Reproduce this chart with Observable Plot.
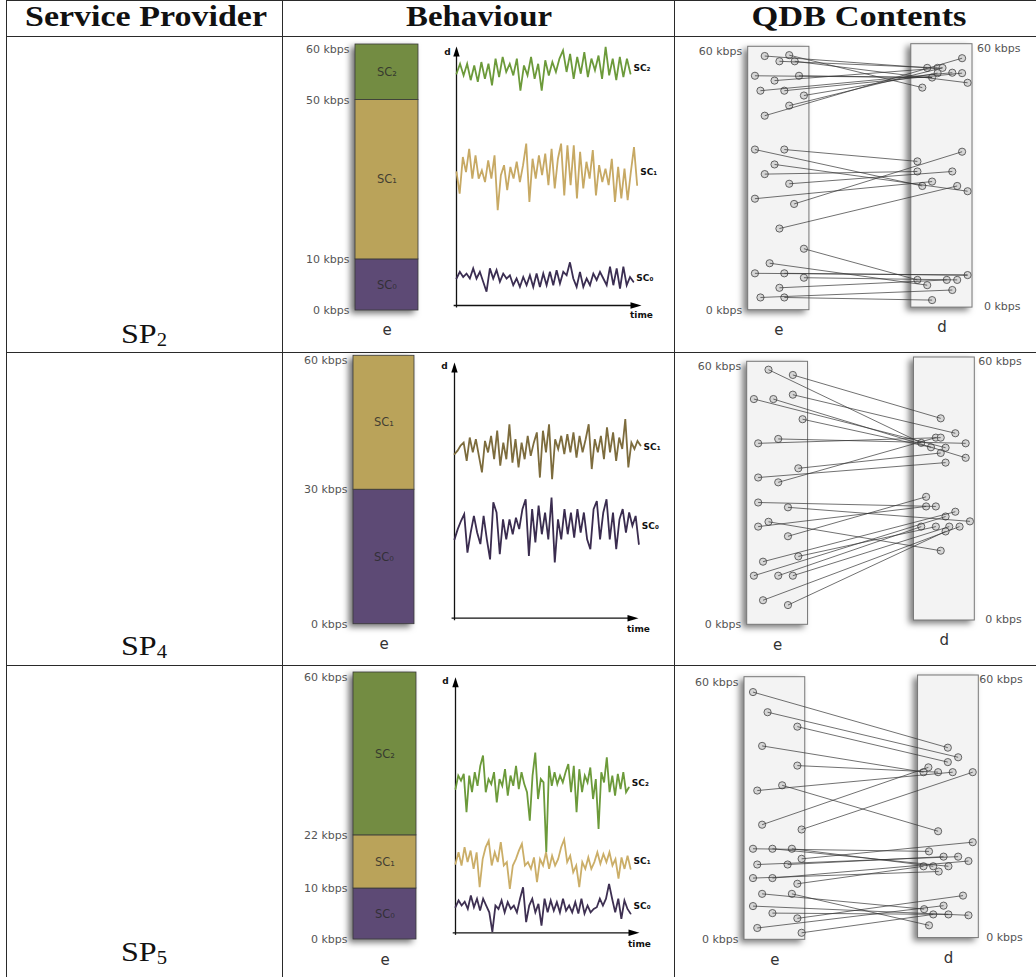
<!DOCTYPE html>
<html><head><meta charset="utf-8">
<script src="https://cdn.jsdelivr.net/npm/d3@7"></script>
<script src="https://cdn.jsdelivr.net/npm/@observablehq/plot@0.6"></script>
<style>
body{margin:0;background:#fff;}
#root{position:relative;width:1036px;height:977px;overflow:hidden;background:#fff;}
.ln{position:absolute;background:#2a2a2a;}
.hdr{position:absolute;font-family:"Liberation Serif",serif;font-weight:bold;font-size:29px;line-height:29px;color:#111;white-space:nowrap;transform-origin:50% 50%;}
.sp{position:absolute;font-family:"Liberation Serif",serif;font-size:28px;line-height:28px;color:#111;white-space:nowrap;transform-origin:50% 50%;}
.sp sub{font-size:18px;vertical-align:-3px;line-height:0;}
</style></head><body><div id="root"></div>
<script>
// ---------- DATA ----------
const classNames = ["SC₀", "SC₁", "SC₂"];
const headers = ["Service Provider", "Behaviour", "QDB Contents"];
const providers = ["2", "4", "5"];

// SP2 behaviour
const sp2Bounds = [0, 10, 50, 60];
const sp2Classes = [0, 1, 2];
const sp2Sc2 = [53.7,56.0,53.3,56.0,52.2,55.6,51.8,56.4,52.5,56.0,51.0,57.2,52.9,57.6,54.1,56.0,53.3,57.2,49.8,55.6,53.3,57.6,52.5,56.0,49.8,56.8,53.3,56.4,54.1,57.2,59.1,54.1,58.3,52.5,57.6,53.7,58.7,52.9,57.2,54.5,57.9,52.5,59.9,53.3,57.2,52.2,57.6,52.9,57.2,53.7];
const sp2Sc1 = [30.9,25.9,34.4,30.9,36.3,29.4,34.8,29.4,31.3,28.6,33.6,29.4,34.8,22.1,30.2,32.5,26.7,32.1,29.4,33.3,28.6,32.5,37.5,24.0,34.0,29.4,34.8,30.2,35.2,27.9,36.3,27.1,34.0,37.5,25.5,37.1,27.9,37.1,24.8,35.6,27.1,33.3,29.4,36.0,25.5,32.5,28.6,31.7,27.9,34.0,24.0,32.1,24.8,31.7,24.4,30.9,36.7,27.9];
const sp2Sc0 = [6.25,7.8,6.6,7.4,6.25,8.6,6.25,7.8,5.5,3.2,8.6,6.25,8.2,5.5,7.4,6.25,7.0,4.7,6.25,4.3,6.6,4.7,7.0,4.3,7.4,4.3,7.4,4.7,7.8,4.7,8.2,5.1,7.8,7.0,10.0,6.25,4.3,7.8,4.3,6.25,4.7,7.4,5.9,7.8,6.25,4.7,9.0,4.7,8.6,3.9,9.0,4.7,6.6,5.5];

// SP4 behaviour
const sp4Bounds = [0, 30, 60];
const sp4Classes = [0, 1];
const sp4Sc1 = [38.5,39.3,40.5,41.2,36.9,42.4,38.9,42.0,38.1,34.2,41.6,38.9,42.8,37.3,44.0,35.8,41.2,37.3,45.5,36.5,42.0,35.4,41.2,37.3,42.8,38.1,41.2,43.6,33.0,44.0,38.9,45.5,32.6,42.0,39.7,42.8,38.5,43.2,38.9,43.6,37.7,42.8,38.9,42.0,45.5,35.0,42.0,38.9,42.8,37.3,44.8,38.9,43.6,36.9,42.4,39.7,46.7,35.4,41.2,39.7,41.6,40.5];
const sp4Sc0 = [18.5,20.9,22.8,24.4,15.4,20.1,24.0,20.1,17.4,24.0,18.5,13.8,27.2,24.8,15.0,23.2,18.5,23.2,19.7,23.6,20.9,25.6,27.9,14.6,25.6,17.8,26.4,19.7,24.8,18.5,28.3,13.1,23.2,18.5,25.6,19.7,24.8,18.9,25.6,20.1,24.8,18.5,16.2,25.6,27.5,18.5,24.8,27.9,18.5,24.8,16.2,23.2,25.6,20.1,24.8,21.7,24.0,17.4];

// SP5 behaviour
const sp5Bounds = [0, 10, 22, 60];
const sp5Classes = [0, 1, 2];
const sp5Sc2 = [33.75,36.9,35.7,37.3,28.3,36.9,33.0,37.7,34.5,39.2,41.6,33.0,36.1,34.9,37.7,30.6,36.1,34.5,38.4,32.2,36.9,34.5,39.2,33.75,37.7,34.9,33.0,26.3,36.9,42.3,31.4,36.1,35.3,18.9,39.2,34.5,37.7,34.9,36.9,35.3,37.7,39.6,33.0,39.2,28.3,38.4,33.0,36.9,35.3,38.8,31.4,36.1,24.4,37.7,35.3,41.2,33.0,36.9,32.2,37.3,33.75,37.7,33.0,34.1];
const sp5Sc1 = [16.2,18.9,15.8,20.1,16.6,19.3,15.0,18.9,10.7,17.3,20.1,21.6,15.8,18.9,16.6,21.3,15.8,16.6,10.3,15.8,17.3,19.3,20.9,15.8,16.6,15.0,17.7,11.9,17.3,15.8,18.9,15.0,18.1,15.8,17.3,20.1,21.9,16.6,18.1,14.2,15.8,10.7,16.6,15.0,17.7,15.0,16.6,18.9,16.2,18.5,16.6,18.9,15.8,17.3,12.7,17.7,15.0,18.1,15.0];
const sp5Sc0 = [6.0,7.6,6.4,7.3,5.6,8.75,6.0,8.0,5.2,8.0,6.4,4.8,0.2,6.4,5.6,7.6,4.8,7.2,5.6,6.4,4.8,8.0,10.7,2.5,6.4,8.0,4.8,6.8,1.7,8.0,4.8,7.6,5.2,7.2,4.8,8.0,5.2,6.4,4.8,7.2,4.5,8.0,4.5,6.4,4.8,5.6,6.0,8.0,6.4,8.0,11.5,8.0,4.8,8.0,3.3,7.6,5.6,4.5];

// QDB contents: e-side and d-side samples (kbps), lane inside each column, and e→d links
const sp2EKbps = [57.9,56.7,58.1,56.7,53.4,52.3,53.4,50.0,50.0,48.9,46.6,44.3,36.6,36.6,33.2,31.0,28.8,25.4,24.2,18.6,14.0,10.7,8.4,8.4,7.4,5.1,2.9,2.9];
const sp2ELane = [.27,.51,.67,.76,.11,.43,.83,.20,.59,.91,.67,.27,.11,.59,.43,.27,.67,.11,.75,.51,.91,.35,.11,.59,.91,.51,.20,.59];
const sp2DKbps = [57.4,55.2,55.2,55.2,54.0,54.1,54.0,53.0,51.8,50.7,36.1,33.9,31.6,31.6,29.3,28.3,28.3,27.1,8.0,6.9,6.9,6.9,5.7,4.6,2.3];
const sp2DLane = [.83,.26,.43,.51,.43,.67,.83,.34,.92,.18,.83,.10,.10,.67,.34,.18,.75,.92,.92,.10,.58,.75,.26,.67,.34];
const sp2Links = [[0,1],[1,2],[2,9],[3,8],[4,7],[5,3],[6,7],[7,5],[8,6],[9,4],[10,3],[11,0],[12,15],[13,11],[14,17],[15,12],[16,13],[17,14],[18,10],[19,16],[20,19],[21,22],[22,18],[23,18],[24,21],[25,20],[26,23],[27,24]];

const sp4EKbps = [58.2,57.0,51.5,51.5,52.5,46.9,41.4,42.4,35.7,33.6,32.5,27.9,26.8,22.4,23.5,20.2,14.4,15.6,11.2,11.2,11.2,5.6,4.5];
const sp4ELane = [.35,.75,.11,.43,.75,.91,.18,.51,.84,.18,.51,.18,.67,.18,.35,.67,.26,.84,.11,.51,.75,.26,.67];
const sp4DKbps = [47.1,43.7,42.7,42.7,41.5,41.4,40.5,40.4,39.2,38.1,37.0,29.2,27.0,27.0,25.8,24.7,23.6,22.4,22.4,22.4,22.4,21.3,16.9];
const sp4DLane = [.44,.68,.36,.44,.12,.85,.28,.52,.44,.85,.52,.20,.20,.36,.68,.52,.92,.12,.36,.58,.75,.52,.44];
const sp4Links = [[0,4],[1,0],[2,7],[3,9],[4,1],[5,6],[6,3],[7,5],[8,8],[9,10],[10,2],[11,13],[12,16],[13,12],[14,22],[15,11],[16,14],[17,18],[18,15],[19,17],[20,19],[21,20],[22,21]];

const sp5EKbps = [56.6,52.0,48.7,44.3,39.8,34.1,35.3,26.3,25.2,20.8,20.8,20.8,18.5,17.2,17.2,14.1,14.1,12.8,10.5,10.5,7.7,6.1,4.9,2.7,1.6];
const sp5ELane = [.14,.38,.87,.29,.87,.21,.62,.29,.94,.14,.46,.78,.94,.21,.71,.14,.46,.87,.29,.78,.14,.46,.87,.21,.94];
const sp5DKbps = [43.9,41.7,40.6,39.4,38.3,38.3,38.3,38.3,24.8,22.3,20.2,19.0,19.0,18.0,16.8,16.8,16.8,15.6,10.1,7.8,7.0,5.8,5.8,5.6,3.3];
const sp5DLane = [.49,.66,.49,.17,.09,.33,.57,.90,.33,.90,.18,.42,.66,.83,.09,.25,.50,.34,.74,.42,.10,.25,.50,.83,.18];
const sp5Links = [[0,0],[1,1],[2,2],[3,4],[4,5],[5,6],[6,8],[7,3],[8,7],[9,10],[10,16],[11,15],[12,9],[13,12],[14,11],[15,17],[16,13],[17,14],[18,20],[19,24],[20,23],[21,22],[22,18],[23,19],[24,21]];

// ---------- STYLE / LAYOUT ----------
const classFill = ["#5d4a75", "#baa35a", "#738c42"];
const FONT = "DejaVu Sans, sans-serif";
const root = document.getElementById("root");

function place(svg, L) {
  svg.style.position = "absolute";
  svg.style.left = L.left + "px";
  svg.style.top = L.top + "px";
  svg.style.maxWidth = "none";
  root.appendChild(svg);
}
function line(x, y, w, h) {
  const d = document.createElement("div");
  d.className = "ln";
  Object.assign(d.style, {left: x + "px", top: y + "px", width: w + "px", height: h + "px"});
  root.appendChild(d);
}

const arrowUp = {draw(ctx) { ctx.moveTo(0, 0); ctx.lineTo(3.2, 10); ctx.lineTo(-3.2, 10); ctx.closePath(); }};
const arrowRight = {draw(ctx) { ctx.moveTo(0, 0); ctx.lineTo(-11, -3.2); ctx.lineTo(-11, 3.2); ctx.closePath(); }};

// L.stops: drawn share of the bar height at each bound (the bar is not drawn to a linear scale)
function barChart(L, bounds, classes) {
  const segs = classes.map((c, i) => ({lo: bounds[i], hi: bounds[i + 1], cls: c}));
  const top = bounds[bounds.length - 1];
  const warp = d3.scaleLinear().domain(bounds).range(L.stops);
  const svg = Plot.plot({
    width: L.w, height: L.h, marginLeft: L.ml, marginRight: L.mr, marginTop: L.mt, marginBottom: L.mb,
    style: {background: "transparent", fontFamily: FONT, overflow: "visible"},
    x: {type: "band", domain: ["e"], padding: 0, axis: null},
    y: {type: "linear", domain: [0, 1], transform: warp, axis: null},
    color: {type: "identity"},
    marks: [
      Plot.barY(segs, {x: () => "e", y1: "lo", y2: "hi", fill: d => classFill[d.cls], stroke: "#3a3a3a", strokeWidth: 0.8, inset: 0}),
      Plot.text(segs, {x: () => "e", y: d => (d.lo + d.hi) / 2, text: d => classNames[d.cls], fontSize: 11.5, fill: "#2b2b2b", fillOpacity: 0.85}),
      Plot.text(bounds.slice(0, -1), {y: d => d, text: d => `${d} kbps`, frameAnchor: "left", textAnchor: "end", dx: -6, fontSize: 11, fill: "#555"}),
      Plot.text([top], {y: d => d, text: d => `${d} kbps`, frameAnchor: "left", textAnchor: "end", dx: -6, dy: 5, fontSize: 11, fill: "#555"}),
      Plot.text(["e"], {x: d => d, y: 0, dy: L.eDy, text: d => d, fontSize: 15, fill: "#333"})
    ]
  });
  const g = svg.querySelector('g[aria-label="bar"]');
  if (g) g.style.filter = "drop-shadow(-4px 3px 3px rgba(0,0,0,0.55))";
  place(svg, L);
}

function lineChart(L, series) {
  const marks = [
    Plot.ruleX([0], {x: d => d, y1: -0.6, y2: 59, stroke: "#111", strokeWidth: 1.3}),
    Plot.ruleY([0], {y: d => d, x1: -1.3, x2: L.xMax - 2, stroke: "#111", strokeWidth: 1.3}),
    Plot.dot([0], {x: 0, y: 60, symbol: arrowUp, fill: "#000", stroke: "none", r: 4}),
    Plot.dot([0], {x: L.xMax, y: 0, symbol: arrowRight, fill: "#000", stroke: "none", r: 4}),
    Plot.text(["d"], {x: 0, y: 60, text: d => d, dx: L.dDx, dy: L.dDy, fontSize: 9, fontWeight: "bold", fill: "#111"}),
    Plot.text(["time"], {x: L.xMax, y: 0, text: d => d, dy: L.tDy, fontSize: 9, fontWeight: "bold", fill: "#111"})
  ];
  for (const s of series) {
    const n = s.values.length;
    const data = s.values.map((v, i) => ({t: i * s.tEnd / (n - 1), v}));
    marks.push(Plot.line(data, {x: "t", y: "v", stroke: s.color, strokeWidth: 1.8, strokeLinejoin: "miter", strokeMiterlimit: 4}));
  }
  marks.push(Plot.text(series, {x: s => s.tEnd, y: s => d3.mean(s.values), text: s => classNames[s.cls], textAnchor: "start", dx: 3, fontSize: 9, fontWeight: "bold", fill: "#111"}));
  const svg = Plot.plot({
    width: L.w, height: L.h, marginLeft: L.ml, marginRight: L.mr, marginTop: L.mt, marginBottom: L.mb,
    style: {background: "transparent", fontFamily: FONT, overflow: "visible"},
    x: {domain: [0, L.xMax], axis: null},
    y: {domain: [0, 60], axis: null},
    marks
  });
  place(svg, L);
}

function qdbChart(L, eK, eL, dK, dL, links) {
  const G = L.G;
  const eP = eK.map((k, i) => ({x: eL[i], y: k}));
  const dP = dK.map((k, i) => ({x: G + dL[i], y: k}));
  const lk = links.map(([a, b]) => ({x1: eP[a].x, y1: eP[a].y, x2: dP[b].x, y2: dP[b].y}));
  const lab = {fontSize: 11, fill: "#555"};
  const svg = Plot.plot({
    width: L.w, height: L.h, marginLeft: L.ml, marginRight: L.mr, marginTop: L.mt, marginBottom: L.mb,
    style: {background: "transparent", fontFamily: FONT, overflow: "visible"},
    x: {domain: [0, G + 1], axis: null},
    y: {domain: [0, 60], axis: null},
    marks: [
      Plot.rect([0], {x1: 0, x2: 1, y1: 0, y2: 60, fill: "#f3f3f3", stroke: "#777", strokeWidth: 1}),
      Plot.rect([0], {x1: G, x2: G + 1, y1: 0, y2: 60, fill: "#f3f3f3", stroke: "#777", strokeWidth: 1, dy: L.ddy}),
      Plot.dot(eP, {x: "x", y: "y", r: 3.6, fill: "#d6d6d6", stroke: "#555", strokeWidth: 0.9}),
      Plot.dot(dP, {x: "x", y: "y", r: 3.6, fill: "#d6d6d6", stroke: "#555", strokeWidth: 0.9}),
      Plot.link(lk, {x1: "x1", y1: "y1", x2: "x2", y2: "y2", stroke: "#333", strokeWidth: 0.7}),
      Plot.text([60], {x: 0, y: d => d, text: d => `${d} kbps`, textAnchor: "end", dx: -6, dy: 5, ...lab}),
      Plot.text([0], {x: 0, y: d => d, text: d => `${d} kbps`, textAnchor: "end", dx: -6, ...lab}),
      Plot.text([60], {x: G + 1, y: d => d, text: d => `${d} kbps`, textAnchor: "end", dx: L.rDx, dy: L.ddy + 4, ...lab}),
      Plot.text([0], {x: G + 1, y: d => d, text: d => `${d} kbps`, textAnchor: "end", dx: L.rDx, dy: L.ddy - 1, ...lab}),
      Plot.text(["e"], {x: 0.5, y: 0, text: d => d, dy: 20, fontSize: 15, fill: "#333"}),
      Plot.text(["d"], {x: G + 0.5, y: 0, text: d => d, dy: 20 + L.ddy, fontSize: 15, fill: "#333"})
    ]
  });
  svg.querySelectorAll('g[aria-label="rect"]').forEach(g => g.style.filter = "drop-shadow(-4px 3px 3px rgba(0,0,0,0.5))");
  place(svg, L);
}

// ---------- TABLE FRAME ----------
line(6, 0, 1036, 1.3);
line(6, 36, 1036, 1.3);
line(6, 351.5, 1036, 1.3);
line(6, 665, 1036, 1.3);
line(6, 0, 1.3, 977);
line(282, 0, 1.3, 977);
line(673.5, 0, 1.3, 977);

const hdrCenters = [146, 478.8, 859.2];
const hdrWidths = [242, 146, 215];
headers.forEach((h, i) => {
  const s = document.createElement("span");
  s.className = "hdr";
  s.textContent = h;
  s.style.left = hdrCenters[i] + "px";
  s.style.top = "2.4px";
  root.appendChild(s);
  const w = s.getBoundingClientRect().width;
  s.style.transform = `translateX(-50%) scaleX(${hdrWidths[i] / w})`;
});

const spBaselines = [343, 655, 961.7];
providers.forEach((p, i) => {
  const s = document.createElement("span");
  s.className = "sp";
  s.innerHTML = `SP<sub>${p}</sub>`;
  s.style.left = "143.7px";
  s.style.top = (spBaselines[i] - 23.5) + "px";
  root.appendChild(s);
  const w = s.getBoundingClientRect().width;
  s.style.transform = `translateX(-50%) scaleX(${46 / w})`;
});

// ---------- ROWS ----------
// SP2: bar spans y 44..310 on the page
barChart({left: 285, top: 37, w: 140, h: 315, ml: 70, mr: 7, mt: 7, mb: 42, stops: [0, 0.192, 0.791, 1], eDy: 20}, sp2Bounds, sp2Classes);
lineChart({left: 420, top: 37, w: 254, h: 315, ml: 36, mr: 33, mt: 9, mb: 47, xMax: 102.4, dDx: -9, dDy: 6, tDy: 10}, [
  {cls: 2, values: sp2Sc2, tEnd: 96.3, color: "#6c9a3a"},
  {cls: 1, values: sp2Sc1, tEnd: 100, color: "#c7a964"},
  {cls: 0, values: sp2Sc0, tEnd: 97.9, color: "#3b2e52"}
]);
qdbChart({left: 675, top: 37, w: 361, h: 315, ml: 72.7, mr: 64, mt: 9.3, mb: 42.3, G: 2.664, ddy: -2.6, rDx: 48}, sp2EKbps, sp2ELane, sp2DKbps, sp2DLane, sp2Links);

// SP4: bar spans y 355..624
barChart({left: 285, top: 352, w: 135, h: 314, ml: 68, mr: 6, mt: 3.3, mb: 42.3, stops: [0, 0.501, 1], eDy: 20}, sp4Bounds, sp4Classes);
lineChart({left: 420, top: 352, w: 254, h: 314, ml: 34, mr: 36, mt: 10, mb: 48.3, xMax: 98.9, dDx: -10, dDy: 4, tDy: 11}, [
  {cls: 1, values: sp4Sc1, tEnd: 100, color: "#7d6c3d"},
  {cls: 0, values: sp4Sc0, tEnd: 99.1, color: "#3a2c4f"}
]);
qdbChart({left: 675, top: 352, w: 361, h: 314, ml: 71.7, mr: 61.7, mt: 9.3, mb: 41.7, G: 2.74, ddy: -4.3, rDx: 47}, sp4EKbps, sp4ELane, sp4DKbps, sp4DLane, sp4Links);

// SP5: bar spans y 672..939
barChart({left: 285, top: 666, w: 135, h: 311, ml: 68, mr: 4, mt: 6, mb: 38, stops: [0, 0.191, 0.390, 1], eDy: 21}, sp5Bounds, sp5Classes);
lineChart({left: 420, top: 666, w: 254, h: 311, ml: 35, mr: 35, mt: 10.7, mb: 44.7, xMax: 105.1, dDx: -10, dDy: 3.5, tDy: 11.7}, [
  {cls: 2, values: sp5Sc2, tEnd: 99, color: "#6c9a3a"},
  {cls: 1, values: sp5Sc1, tEnd: 100, color: "#cbae68"},
  {cls: 0, values: sp5Sc0, tEnd: 100, color: "#3e3052"}
]);
qdbChart({left: 675, top: 666, w: 361, h: 311, ml: 69, mr: 57.7, mt: 10.7, mb: 37.7, G: 2.857, ddy: -1.7, rDx: 44}, sp5EKbps, sp5ELane, sp5DKbps, sp5DLane, sp5Links);
</script></body></html>
